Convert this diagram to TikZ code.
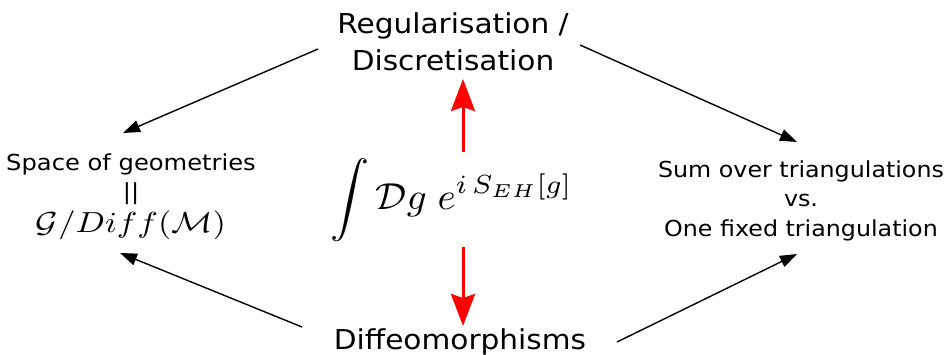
\documentclass[tikz,border=0pt]{standalone}
\usepackage{graphicx}
\usepackage[no-math]{fontspec}
\setmainfont{DejaVu Sans}
\usetikzlibrary{arrows.meta}
\newcommand{\sx}[1]{\scalebox{1.08}[1]{#1}}
\newcommand{\sxs}[1]{\scalebox{1.1}[1]{#1}}
\newcommand{\bigmath}[3]{\scalebox{#1}[#2]{\fontsize{10}{12}\selectfont$#3$}}
\begin{document}
\begin{tikzpicture}[x=1pt,y=-1pt,
  lbl/.style={inner sep=0pt, align=center},
  blk/.style={black, line width=1.4pt, -{Triangle[length=17pt,width=12pt]}},
  redarr/.style={red, line width=3pt, -{Stealth[length=32pt,width=24pt,inset=4pt]}}]
\useasboundingbox (0,0) rectangle (948,355);
% nodes
\node[lbl, font=\fontsize{27.4}{37}\selectfont, anchor=north] (top) at (453,12.2)
  {\sx{Regularisation /}\\\sx{Discretisation}};
\node[lbl, font=\fontsize{22}{29}\selectfont, anchor=north] (left) at (131,153.3)
  {\sxs{Space of geometries}\\\sxs{||}\\[4pt]\bigmath{3.44}{2.9}{\mathcal{G}/Diff(\mathcal{M})}};
\node[lbl, font=\fontsize{22}{29.5}\selectfont, anchor=north] (right) at (801,160.3)
  {\sx{Sum over triangulations}\\\sx{vs.}\\\sx{One fixed triangulation}};
\node[lbl] (mid) at (451.5,200)
  {\bigmath{3.89}{3.75}{\displaystyle\int \mathcal{D}g\; e^{i\,S_{EH}[g]}}};
\node[lbl, font=\fontsize{27.4}{34}\selectfont, anchor=base] (bot) at (460,350)
  {\sx{Diffeomorphisms}};
% connector end points
\coordinate (tA) at (318,49);
\coordinate (tB) at (580,45);
\coordinate (lA) at (123,133);
\coordinate (rA) at (797,142);
\coordinate (lB) at (120,253);
\coordinate (rB) at (797,254);
\coordinate (bA) at (302,327);
\coordinate (bB) at (617,342);
\coordinate (mU) at (463,152);
\coordinate (tU) at (463,79);
\coordinate (mD) at (463,247);
\coordinate (bD) at (463,326);
% connectors
\draw[blk] (tA) -- (lA);
\draw[blk] (tB) -- (rA);
\draw[blk] (bA) -- (lB);
\draw[blk] (bB) -- (rB);
\draw[redarr] (mU) -- (tU);
\draw[redarr] (mD) -- (bD);
\end{tikzpicture}
\end{document}
